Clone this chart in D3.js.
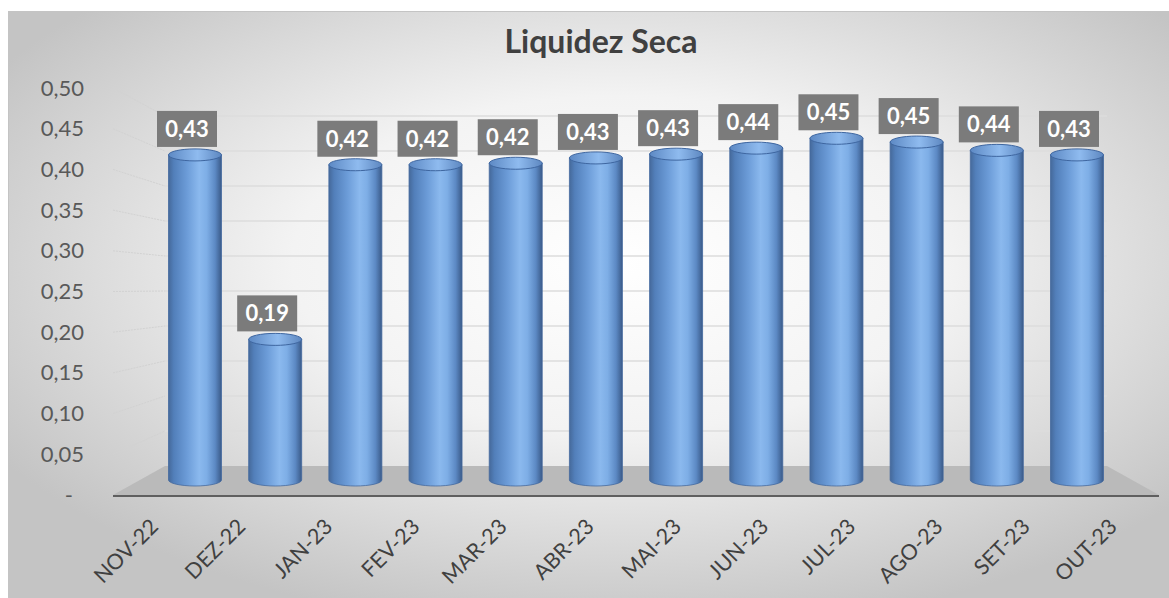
<!DOCTYPE html>
<html>
<head>
<meta charset="utf-8">
<title>Liquidez Seca</title>
<script src="https://cdn.jsdelivr.net/npm/d3@7"></script>
<style>
  body { margin: 0; background: #ffffff; }
  svg { display: block; }
  .ylab text { fill: #595959; font: 22px Lato, sans-serif; }
  .xlab { fill: #404040; font: 21.5px Lato, sans-serif; }
  .dlab { fill: #ffffff; font: bold 22px Lato, sans-serif; }
  .title { fill: #404040; font: bold 32px Lato, sans-serif; }
</style>
</head>
<body>
<svg id="chart" width="1169" height="598"></svg>
<script>
// data
var months = ['NOV-22', 'DEZ-22', 'JAN-23', 'FEV-23', 'MAR-23', 'ABR-23',
              'MAI-23', 'JUN-23', 'JUL-23', 'AGO-23', 'SET-23', 'OUT-23'];
var liquidez = [0.430, 0.186, 0.417, 0.417, 0.419, 0.426,
                0.431, 0.439, 0.452, 0.447, 0.436, 0.430];
var yTicks = [0, 0.05, 0.10, 0.15, 0.20, 0.25, 0.30, 0.35, 0.40, 0.45, 0.50];

var svg = d3.select('#chart');
var defs = svg.append('defs');

// background gradient
var bg = defs.append('radialGradient').attr('id', 'bg')
  .attr('cx', '0.52').attr('cy', '0.42').attr('r', '0.62');
bg.append('stop').attr('offset', '0%').attr('stop-color', '#ffffff');
bg.append('stop').attr('offset', '45%').attr('stop-color', '#f3f3f3');
bg.append('stop').attr('offset', '100%').attr('stop-color', '#c4c4c4');

// cylinder body gradient
var cg = defs.append('linearGradient').attr('id', 'cyl');
[['0%', '#45699a'], ['10%', '#527fba'], ['35%', '#6c9cd8'], ['58%', '#8bb9ee'],
 ['72%', '#7eaee6'], ['88%', '#5c89c4'], ['100%', '#3a5a88']].forEach(function (s) {
  cg.append('stop').attr('offset', s[0]).attr('stop-color', s[1]);
});
var tg = defs.append('linearGradient').attr('id', 'cyltop');
[['0%', '#5d89c4'], ['55%', '#8fbbef'], ['100%', '#5d87c0']].forEach(function (s) {
  tg.append('stop').attr('offset', s[0]).attr('stop-color', s[1]);
});

svg.append('rect').attr('x', 8.5).attr('y', 11.5).attr('width', 1175).attr('height', 600)
  .attr('fill', 'url(#bg)').attr('stroke', '#c4c4c4');

// scales
var wallL = 165, wallR = 1107, frontL = 113, frontR = 1159;
var x = d3.scalePoint().domain(months).range([195, 1077]);
var xFront = d3.scaleBand().domain(months).range([frontL, frontR]);
var yFront = d3.scaleLinear().domain([0, 0.5]).range([495, 88]);
var yBack = d3.scaleLinear().domain([0, 0.5]).range([466, 116]);
var yCyl = d3.scaleLinear().domain([0, 0.5]).range([480, 102]);
var cw = 53, ry = 6;

// back wall grid
svg.append('g').selectAll('line').data(yTicks.slice(1)).enter().append('line')
  .attr('x1', wallL).attr('x2', wallR)
  .attr('y1', function (d) { return yBack(d); }).attr('y2', function (d) { return yBack(d); })
  .attr('stroke', '#dcdcdc').attr('stroke-width', 1.5);

// side wall grid
svg.append('g').selectAll('line').data(yTicks.slice(1)).enter().append('line')
  .attr('x1', frontL).attr('x2', wallL)
  .attr('y1', function (d) { return yFront(d); }).attr('y2', function (d) { return yBack(d); })
  .attr('stroke', '#d2d2d2').attr('stroke-width', 1).attr('stroke-dasharray', '2,1');

// floor
svg.append('polygon')
  .attr('points', [[frontL, yFront(0)], [wallL, yBack(0)], [wallR, yBack(0)], [frontR, yFront(0)]].join(' '))
  .attr('fill', '#bababa');
svg.append('line').attr('x1', frontL).attr('x2', frontR)
  .attr('y1', yFront(0) + 1).attr('y2', yFront(0) + 1)
  .attr('stroke', '#5f5f5f').attr('stroke-width', 2);

// y axis
var yAxis = d3.axisLeft(yFront).tickValues(yTicks).tickSize(0).tickPadding(0)
  .tickFormat(function (d) { return d === 0 ? '-' : d3.format('.2f')(d).replace('.', ','); });
var ya = svg.append('g').attr('class', 'ylab').attr('transform', 'translate(84,0)').call(yAxis);
ya.select('.domain').remove();
ya.selectAll('.tick').filter(function (d) { return d === 0; }).select('text').attr('x', -11);

// cylinders
var cyl = svg.append('g').selectAll('g').data(liquidez).enter().append('g');
cyl.append('path')
  .attr('d', function (d, i) {
    var cx = x(months[i]), l = cx - cw / 2, r = cx + cw / 2;
    return 'M' + l + ',' + yCyl(d) + 'L' + l + ',' + yCyl(0) +
      'A' + cw / 2 + ',' + ry + ' 0 0 0 ' + r + ',' + yCyl(0) +
      'L' + r + ',' + yCyl(d) + 'Z';
  })
  .attr('fill', 'url(#cyl)').attr('stroke', '#44699f').attr('stroke-width', 0.8);
cyl.append('ellipse')
  .attr('cx', function (d, i) { return x(months[i]); })
  .attr('cy', function (d) { return yCyl(d); })
  .attr('rx', cw / 2).attr('ry', ry)
  .attr('fill', 'url(#cyltop)').attr('stroke', '#3e66a0').attr('stroke-width', 1);

// data labels
var lab = svg.append('g').selectAll('g').data(liquidez).enter().append('g')
  .attr('transform', function (d, i) {
    return 'translate(' + (x(months[i]) - 8) + ',' + (yCyl(d) - ry - 2) + ')';
  });
lab.append('rect').attr('x', -30).attr('y', -36).attr('width', 60).attr('height', 36)
  .attr('fill', '#7b7b7b');
lab.append('text').attr('class', 'dlab').attr('text-anchor', 'middle').attr('y', -10)
  .text(function (d) { return d.toFixed(2).replace('.', ','); });

// x labels (on the front edge of the floor)
svg.append('g').selectAll('text').data(months).enter().append('text')
  .attr('class', 'xlab').attr('text-anchor', 'end')
  .attr('transform', function (d) {
    return 'translate(' + (xFront(d) + xFront.bandwidth() / 2 + 3) + ',528) rotate(-45)';
  })
  .text(function (d) { return d; });

// title
svg.append('text').attr('class', 'title').attr('x', 601).attr('y', 53)
  .attr('text-anchor', 'middle').text('Liquidez Seca');
</script>
</body>
</html>
